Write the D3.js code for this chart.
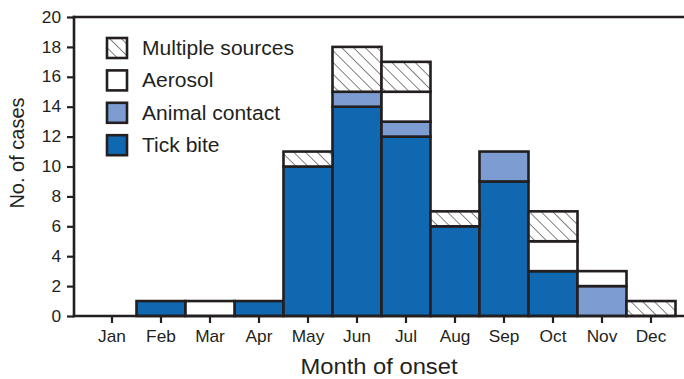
<!DOCTYPE html>
<html>
<head>
<meta charset="utf-8">
<script src="https://cdn.jsdelivr.net/npm/d3@7"></script>
<style>
  html, body { margin: 0; padding: 0; background: #fff; }
  svg { display: block; }
  text { font-family: "Liberation Sans", Arial, Helvetica, sans-serif; fill: #231f20; }
</style>
</head>
<body>
<svg id="chart" width="684" height="379"></svg>
<script>
// Cases by month of onset, split by exposure source
const months = ["Jan", "Feb", "Mar", "Apr", "May", "Jun", "Jul", "Aug", "Sep", "Oct", "Nov", "Dec"];
const tickBite        = [0, 1, 0, 1, 10, 14, 12, 6, 9, 3, 0, 0];
const animalContact   = [0, 0, 0, 0, 0, 1, 1, 0, 2, 0, 2, 0];
const aerosol         = [0, 0, 1, 0, 0, 0, 2, 0, 0, 2, 1, 0];
const multipleSources = [0, 0, 0, 0, 1, 3, 2, 1, 0, 2, 0, 1];
const yTicks = [0, 2, 4, 6, 8, 10, 12, 14, 16, 18, 20];

const seriesNames = ["Tick bite", "Animal contact", "Aerosol", "Multiple sources"];
const seriesValues = [tickBite, animalContact, aerosol, multipleSources];
const seriesFill = ["#1068b1", "#7c9cd2", "#ffffff", "url(#hatch)"];

const ink = "#231f20";
const stretch = "scale(1.08,1)";

const svg = d3.select("#chart");

// diagonal hatch for the "multiple sources" segments
const defs = svg.append("defs");
const pat = defs.append("pattern")
  .attr("id", "hatch")
  .attr("patternUnits", "userSpaceOnUse")
  .attr("width", 8.3).attr("height", 8.3)
  .attr("patternTransform", "rotate(-45)");
pat.append("rect").attr("width", 8.3).attr("height", 8.3).attr("fill", "#fff");
pat.append("line")
  .attr("x1", 0).attr("y1", 0).attr("x2", 0).attr("y2", 8.3)
  .attr("stroke", ink).attr("stroke-width", 1.1);

const plotLeft = 74, plotRight = 684, plotTop = 17, plotBottom = 316;

const x = d3.scaleBand().domain(months).range([87.5, 675.5]).padding(0);
const y = d3.scaleLinear().domain([0, 20]).range([plotBottom, plotTop]);

// stacked segments
const rows = months.map((m, i) => {
  const r = { month: m };
  seriesNames.forEach((s, k) => { r[s] = seriesValues[k][i]; });
  return r;
});
const stacked = d3.stack().keys(seriesNames)(rows);

const barG = svg.append("g");
stacked.forEach((layer, k) => {
  barG.selectAll(null)
    .data(layer.filter(d => d[1] - d[0] > 0))
    .join("rect")
    .attr("x", d => x(d.data.month))
    .attr("width", x.bandwidth())
    .attr("y", d => y(d[1]))
    .attr("height", d => y(d[0]) - y(d[1]))
    .attr("fill", seriesFill[k])
    .attr("stroke", ink)
    .attr("stroke-width", 2.6);
});

// axes
const yAxis = svg.append("g")
  .attr("transform", `translate(${plotLeft},0)`)
  .call(d3.axisLeft(y).tickValues(yTicks).tickSize(7).tickPadding(5).tickSizeOuter(0));
const xAxis = svg.append("g")
  .attr("transform", `translate(0,${plotBottom})`)
  .call(d3.axisBottom(x).tickSize(7).tickPadding(8).tickSizeOuter(0));

[yAxis, xAxis].forEach(g => {
  g.select(".domain").remove();
  g.selectAll(".tick line").attr("stroke", ink).attr("stroke-width", 2.2);
  g.selectAll(".tick text")
    .attr("fill", ink)
    .style("font-size", "16px")
    .style("font-family", "'Liberation Sans', Arial, sans-serif")
    .attr("transform", stretch);
});

// frame: left, bottom and top rules
const frame = svg.append("g").attr("stroke", ink).attr("stroke-width", 2.6).attr("stroke-linecap", "square");
frame.append("line").attr("x1", plotLeft).attr("y1", plotTop).attr("x2", plotLeft).attr("y2", plotBottom);
frame.append("line").attr("x1", plotLeft).attr("y1", plotBottom).attr("x2", plotRight).attr("y2", plotBottom);
frame.append("line").attr("x1", plotLeft).attr("y1", plotTop).attr("x2", plotRight).attr("y2", plotTop);

// legend, listed top to bottom in reverse stack order
const legendOrder = [3, 2, 1, 0];
const legend = svg.append("g");
legendOrder.forEach((k, i) => {
  const ly = 38 + i * 32.4;
  legend.append("rect")
    .attr("x", 107).attr("y", ly)
    .attr("width", 20).attr("height", 20)
    .attr("fill", seriesFill[k])
    .attr("stroke", ink).attr("stroke-width", 2.6);
  legend.append("text")
    .attr("transform", `translate(142,${ly + 17}) ${stretch}`)
    .style("font-size", "19.5px")
    .text(seriesNames[k]);
});

// axis titles
svg.append("text")
  .attr("transform", `translate(379,374) ${stretch}`)
  .attr("text-anchor", "middle")
  .style("font-size", "22px")
  .text("Month of onset");

svg.append("text")
  .attr("transform", "translate(24,153) rotate(-90)")
  .attr("text-anchor", "middle")
  .style("font-size", "20px")
  .text("No. of cases");
</script>
</body>
</html>
